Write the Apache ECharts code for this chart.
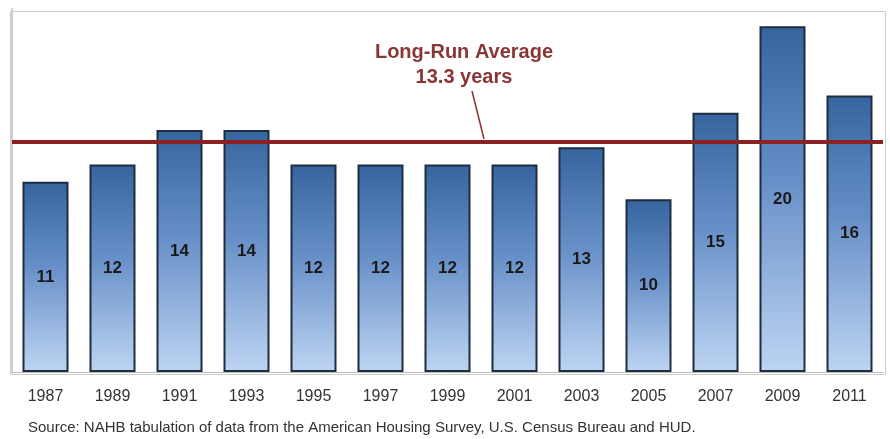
<!DOCTYPE html>
<html>
<head>
<meta charset="utf-8">
<script src="https://cdn.jsdelivr.net/npm/echarts@6/dist/echarts.min.js"></script>
<style>html,body{margin:0;padding:0;background:#fff}#c{width:890px;height:439px}</style>
</head>
<body>
<div id="c"></div>
<script>
const years = ['1987','1989','1991','1993','1995','1997','1999','2001','2003','2005','2007','2009','2011'];
const medianAge = [11,12,14,14,12,12,12,12,13,10,15,20,16];
const longRunAverage = 13.3;
const annotationLines = ['Long-Run Average', '13.3 years'];
const sourceNote = 'Source: NAHB tabulation of data from the American Housing Survey, U.S. Census Bureau and HUD.';

const chart = echarts.init(document.getElementById('c'));
const font = '"Liberation Sans", Arial, sans-serif';
chart.setOption({
  animation: false,
  backgroundColor: '#fff',
  grid: { left: 12, right: 7, top: 9, bottom: 67 },
  xAxis: {
    type: 'category',
    data: years,
    axisLine: { show: true, lineStyle: { color: '#bdbdbd', width: 1 } },
    axisTick: { show: false },
    axisLabel: { color: '#333', fontSize: 16, fontFamily: font, margin: 17 }
  },
  yAxis: {
    type: 'value', min: 0, max: 21,
    axisLine: { show: true, lineStyle: { color: '#cfcfcf', width: 2 } },
    axisTick: { show: false },
    axisLabel: { show: false },
    splitLine: { show: false }
  },
  series: [{
    type: 'bar',
    data: medianAge,
    barWidth: 46,
    itemStyle: {
      color: new echarts.graphic.LinearGradient(0, 0, 0, 1, [
        { offset: 0, color: '#36649f' },
        { offset: 0.45, color: '#6890c8' },
        { offset: 1, color: '#bed5f3' }
      ]),
      borderColor: '#1e2c40',
      borderWidth: 2
    },
    label: {
      show: true, position: 'inside',
      color: '#1a1a1a', fontSize: 17, fontWeight: 'bold', fontFamily: font
    },
    markLine: {
      symbol: 'none', silent: true,
      label: { show: false },
      lineStyle: { color: '#8a2222', width: 4, type: 'solid' },
      data: [{ yAxis: longRunAverage }]
    }
  }],
  graphic: [
    { type: 'rect', left: 8, top: 9, shape: { width: 875, height: 363 }, style: { fill: 'none', stroke: '#cccccc', lineWidth: 1 }, z: 0 },
    { type: 'text', x: 464, y: 52, style: { text: annotationLines[0], fill: '#8b3535', font: 'bold 20px ' + font, textAlign: 'center', textVerticalAlign: 'middle' } },
    { type: 'text', x: 464, y: 77, style: { text: annotationLines[1], fill: '#8b3535', font: 'bold 20px ' + font, textAlign: 'center', textVerticalAlign: 'middle' } },
    { type: 'line', shape: { x1: 472, y1: 91, x2: 484, y2: 139 }, style: { stroke: '#8b3535', lineWidth: 1.5 } },
    { type: 'text', x: 28, y: 428, style: { text: sourceNote, fill: '#333', font: '15px ' + font, textVerticalAlign: 'middle' } }
  ]
});
</script>
</body>
</html>
